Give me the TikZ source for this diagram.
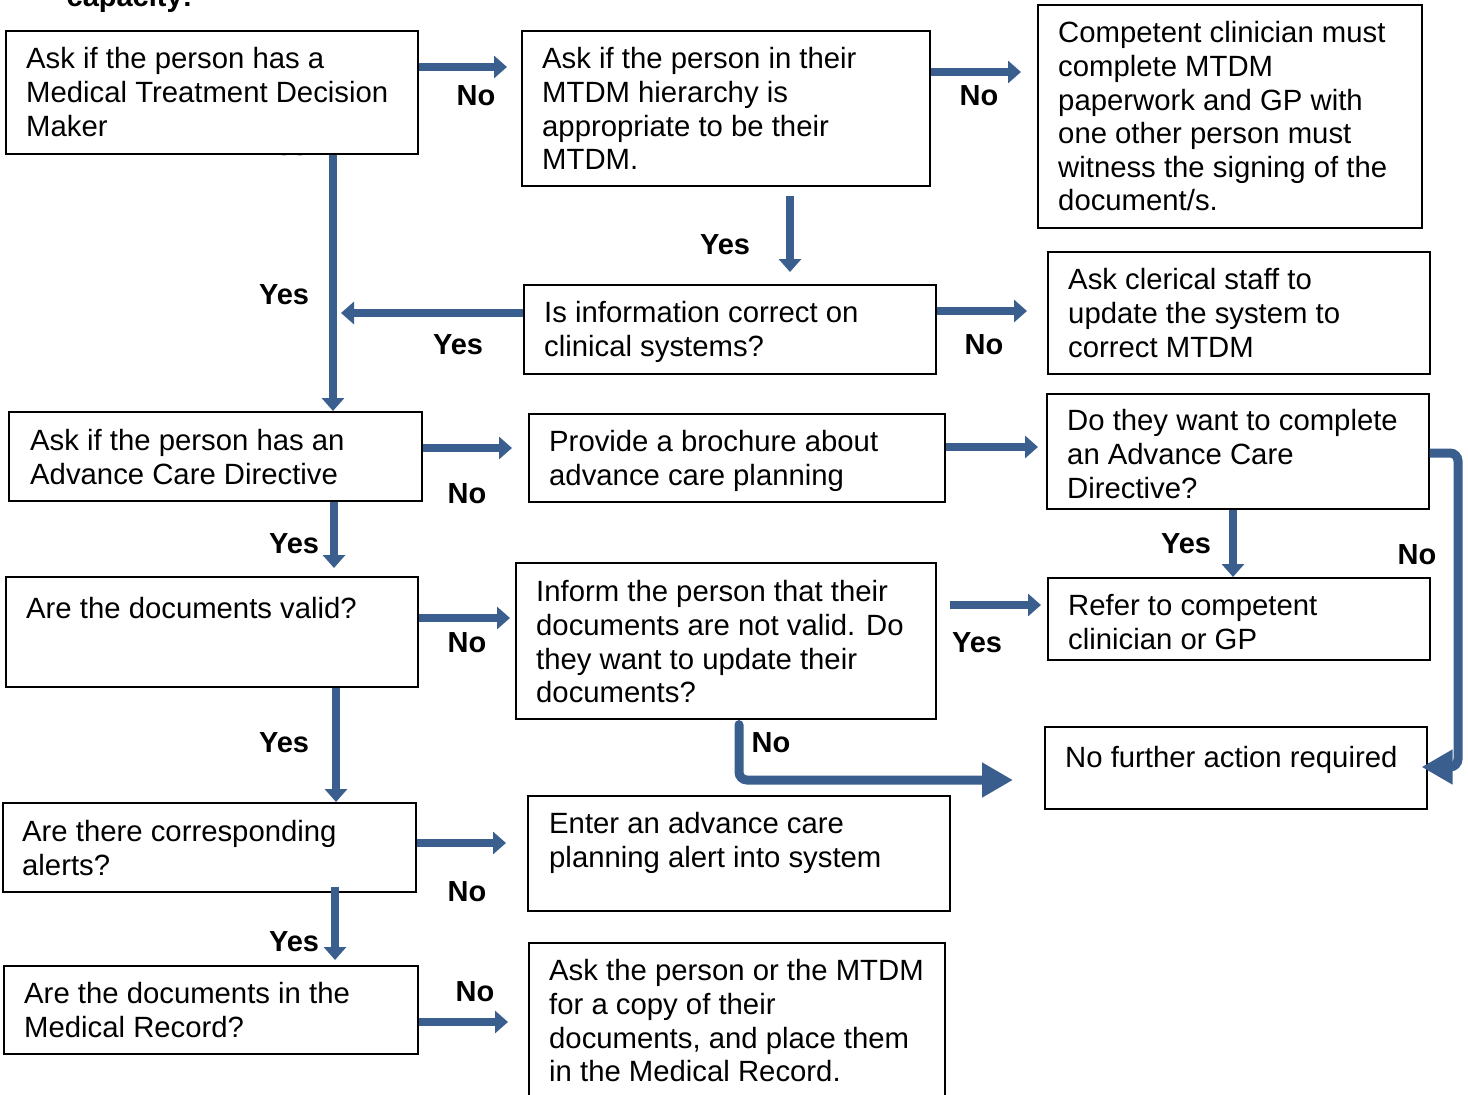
\documentclass[tikz,border=0pt]{standalone}
\usepackage{fontspec}
\setmainfont{Liberation Sans}
\usetikzlibrary{arrows.meta}
\definecolor{arrblue}{RGB}{58,95,143}
\begin{document}
\begin{tikzpicture}[x=1pt,y=-1pt,
 box/.style={draw=black, line width=1.6pt, fill=white, anchor=north west, inner sep=0pt},
 txt/.style={anchor=north west, inner sep=0pt, align=left, font=\fontsize{29.3}{33.6}\selectfont, execute at begin node=\strut, yshift=-3pt},
 lab/.style={anchor=base, inner sep=0pt, font=\fontsize{29}{33.6}\selectfont\bfseries},
 arr/.style={draw=arrblue, line width=8.5pt, -{Triangle[length=13pt,width=22pt]}},
 arrbig/.style={draw=arrblue, line width=9pt, rounded corners=8pt, line cap=round, -{Triangle[length=31pt,width=33pt]}}]
\clip (0,0) rectangle (1468,1095);
\fill[white] (0,0) rectangle (1468,1095);

% partially hidden texts
\node[lab] (cap) at (129.5,6) {capacity:};
\node[lab] (hy) at (283,155) {Yes};

% boxes
\node[box, minimum width=412, minimum height=123] (b1) at (5,30) {};
\node[box, minimum width=408, minimum height=155] (b2) at (521,30) {};
\node[box, minimum width=384, minimum height=223] (b3) at (1037,4) {};
\node[box, minimum width=412, minimum height=89] (b4) at (523,284) {};
\node[box, minimum width=382, minimum height=122] (b5) at (1047,251) {};
\node[box, minimum width=413, minimum height=89] (b6) at (8,411) {};
\node[box, minimum width=416, minimum height=88] (b7) at (528,413) {};
\node[box, minimum width=382, minimum height=115] (b8) at (1046,393) {};
\node[box, minimum width=412, minimum height=110] (b9) at (5,576) {};
\node[box, minimum width=420, minimum height=156] (b10) at (515,562) {};
\node[box, minimum width=382, minimum height=82] (b11) at (1047,577) {};
\node[box, minimum width=382, minimum height=82] (b12) at (1044,726) {};
\node[box, minimum width=413, minimum height=89] (b13) at (2,802) {};
\node[box, minimum width=422, minimum height=115] (b14) at (527,795) {};
\node[box, minimum width=414, minimum height=88] (b15) at (3,965) {};
\node[box, minimum width=416, minimum height=170] (b16) at (528,942) {};

% texts
\node[txt] (t1) at (26,44.5) {Ask if the person has a\\Medical Treatment Decision\\Maker};
\node[txt] (t2) at (542,44.5) {Ask if the person in their\\MTDM hierarchy is\\appropriate to be their\\MTDM.};
\node[txt] (t3) at (1058,18.5) {Competent clinician must\\complete MTDM\\paperwork and GP with\\one other person must\\witness the signing of the\\document/s.};
\node[txt] (t4) at (544,298.5) {Is information correct on\\clinical systems?};
\node[txt] (t5) at (1068,265.5) {Ask clerical staff to\\update the system to\\correct MTDM};
\node[txt] (t6) at (30,426.5) {Ask if the person has an\\Advance Care Directive};
\node[txt] (t7) at (549,427.5) {Provide a brochure about\\advance care planning};
\node[txt] (t8) at (1067,406.5) {Do they want to complete\\an Advance Care\\Directive?};
\node[txt] (t9) at (26,591.5) {Are the documents valid?};
\node[txt] (t10) at (536,577.5) {Inform the person that their\\documents are not valid. Do\\they want to update their\\documents?};
\node[txt] (t11) at (1068,591.5) {Refer to competent\\clinician or GP};
\node[txt] (t12) at (1065,740.5) {No further action required};
\node[txt] (t13) at (22,817.5) {Are there corresponding\\alerts?};
\node[txt] (t14) at (549,809.5) {Enter an advance care\\planning alert into system};
\node[txt] (t15) at (24,979.5) {Are the documents in the\\Medical Record?};
\node[txt] (t16) at (549,956.5) {Ask the person or the MTDM\\for a copy of their\\documents, and place them\\in the Medical Record.};

% connectors
\draw[arr, shorten >=14pt] (b1.east |- 0,67) -- (b2.west |- 0,67);
\draw[arr, shorten >=16pt] (b2.east |- 0,72) -- (b3.west |- 0,72);
\draw[arr, shorten <=9pt, shorten >=12pt] (790,0 |- b2.south) -- (790,0 |- b4.north);
\coordinate (j1) at (341,313);
\draw[arr] (b4.west |- j1) -- (j1);
\draw[arr, shorten >=20pt] (b4.east |- 0,311) -- (b5.west |- 0,311);
\draw[arr] (333,0 |- b1.south) -- (333,0 |- b6.north);
\draw[arr, shorten >=16pt] (b6.east |- 0,448) -- (b7.west |- 0,448);
\draw[arr, shorten >=8pt] (b7.east |- 0,447) -- (b8.west |- 0,447);
\draw[arr, shorten >=8pt] (334,0 |- b6.south) -- (334,0 |- b9.north);
\draw[arrbig, line cap=butt, shorten >=-6pt] (b8.east |- 0,453) -- (1458,453) -- (1458,767) -- (b12.east |- 0,767);
\draw[arr] (1233,0 |- b8.south) -- (1233,0 |- b11.north);
\draw[arr, shorten >=5pt] (b9.east |- 0,618) -- (b10.west |- 0,618);
\draw[arr, shorten <=13pt, shorten >=6pt] (b10.east |- 0,605) -- (b11.west |- 0,605);
\draw[arrbig, shorten <=5pt, shorten >=31pt] (739,0 |- b10.south) -- (739,780) -- (b12.west |- 0,780);
\draw[arr] (336,0 |- b9.south) -- (336,0 |- b13.north);
\draw[arr, shorten >=21pt] (b13.east |- 0,843) -- (b14.west |- 0,843);
\draw[arr, shorten <=-6pt, shorten >=5pt] (335,0 |- b13.south) -- (335,0 |- b15.north);
\draw[arr, shorten >=20pt] (b15.east |- 0,1022) -- (b16.west |- 0,1022);

% labels
\node[lab] (l1) at (476,105.5) {No};
\node[lab] (l2) at (979,105.5) {No};
\node[lab] (l3) at (725,254.5) {Yes};
\node[lab] (l4) at (284,304.5) {Yes};
\node[lab] (l5) at (458,354.5) {Yes};
\node[lab] (l6) at (984,354.5) {No};
\node[lab] (l7) at (467,503.5) {No};
\node[lab] (l8) at (294,553.5) {Yes};
\node[lab] (l9) at (1186,553.5) {Yes};
\node[lab] (l10) at (1417,564.5) {No};
\node[lab] (l11) at (467,652.5) {No};
\node[lab] (l12) at (977,652.5) {Yes};
\node[lab] (l13) at (771,752.5) {No};
\node[lab] (l14) at (284,752.5) {Yes};
\node[lab] (l15) at (467,901.5) {No};
\node[lab] (l16) at (294,951.5) {Yes};
\node[lab] (l17) at (475,1001.5) {No};
\end{tikzpicture}
\end{document}
